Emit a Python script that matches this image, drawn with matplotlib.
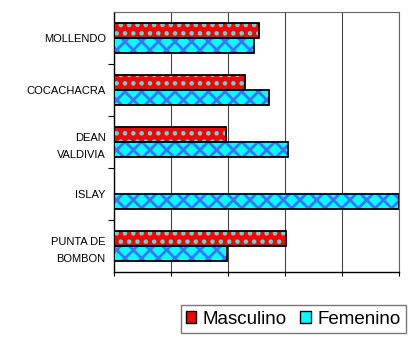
import numpy as np
import matplotlib.pyplot as plt
from matplotlib.patches import Patch

plt.rcParams['font.family'] = ['Liberation Sans', 'DejaVu Sans']
plt.rcParams['hatch.linewidth'] = 2.0

# Datos
distritos = ["MOLLENDO", "COCACHACRA", "DEAN\nVALDIVIA", "ISLAY", "PUNTA DE\nBOMBON"]
masculino = [2.55, 2.29, 1.96, 0.0, 3.02]
femenino = [2.45, 2.72, 3.05, 5.0, 1.98]

fig = plt.figure(figsize=(4.09, 3.39), dpi=100)
ax = fig.add_axes([114 / 409, 1 - 272 / 339, 285 / 409, 260 / 339])

y = np.arange(len(distritos))
h = 0.29

# relleno con patron, luego borde negro encima
ax.barh(y - h / 2, masculino, height=h, color='#ff0000', hatch='..',
        edgecolor='#40e8e8', linewidth=0, zorder=3)
ax.barh(y - h / 2, masculino, height=h, fill=False, edgecolor='black',
        linewidth=1.3, zorder=4)
ax.barh(y + h / 2, femenino, height=h, color='#00ffff', hatch='xx',
        edgecolor='#4070ff', linewidth=0, zorder=3)
ax.barh(y + h / 2, femenino, height=h, fill=False, edgecolor='black',
        linewidth=1.3, zorder=4)

ax.set_xlim(0, 5)
ax.set_ylim(len(distritos) - 0.5, -0.5)
ax.set_xticks(np.arange(0, 6, 1))
ax.set_xticklabels([])
ax.tick_params(axis='x', length=3, width=0.8)
ax.set_yticks(y)
ax.set_yticklabels(distritos, fontsize=8, linespacing=1.9)
ax.set_yticks(np.arange(0.5, len(distritos) - 1, 1), minor=True)
ax.tick_params(axis='y', which='major', length=0, pad=6)
ax.tick_params(axis='y', which='minor', length=4, width=0.8)
ax.grid(axis='x', color='#444444', linewidth=0.8, zorder=0)
for s in ['top', 'right']:
    ax.spines[s].set_color('#666666')
    ax.spines[s].set_linewidth(0.8)
ax.spines['left'].set_linewidth(1.0)
ax.spines['bottom'].set_linewidth(1.0)

handles = [Patch(facecolor='#ff0000', edgecolor='black', label='Masculino'),
           Patch(facecolor='#00ffff', edgecolor='black', label='Femenino')]
fig.legend(handles=handles, loc='upper right', bbox_to_anchor=(406 / 409, 1 - 305 / 339),
           ncol=2, fontsize=13.5, frameon=True, fancybox=False, edgecolor='#555555',
           handlelength=0.55, handleheight=0.55, handletextpad=0.35, columnspacing=0.7,
           borderpad=0.3, borderaxespad=0)

fig.savefig('out.png', dpi=100)
